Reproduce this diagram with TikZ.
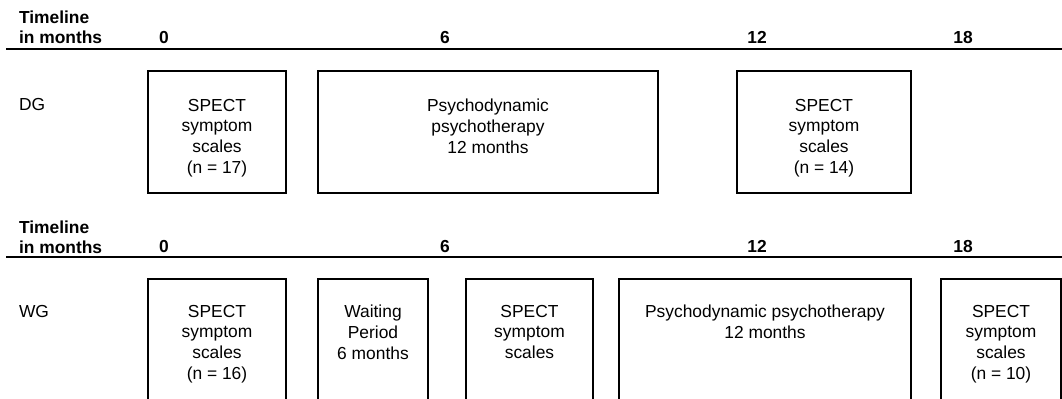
\documentclass[tikz,border=0pt]{standalone}
\usepackage{fontspec}
\setmainfont{Liberation Sans}
\usetikzlibrary{positioning}
\tikzstyle{boxtext} = [align=center, anchor=north, inner sep=0pt, font=\fontsize{8.7}{10.35}\selectfont]
\tikzstyle{head} = [align=left, anchor=north west, inner sep=0pt, font=\fontsize{8.7}{10}\selectfont\bfseries]
\tikzstyle{month} = [anchor=base, inner sep=0pt, font=\fontsize{8.7}{10}\selectfont\bfseries]
\tikzstyle{group} = [anchor=base west, inner sep=0pt, font=\fontsize{8.7}{10}\selectfont]

\begin{document}
\begin{tikzpicture}[x=0.5pt, y=-0.5pt, line width=1pt]
\useasboundingbox (0,0) rectangle (1062,398);

% DG timeline
\node[head] (headdg) at (18,10) {Timeline\\in months};
\draw (6,48.5) -- (1062,48.5);
\foreach \m/\x in {0/164, 6/445, 12/757, 18/963} {
    \node[month] (dgm\m) at (\x,43) {\m};
}
\node[group] (dg) at (18,110) {DG};

\draw (147.5,70.5) rectangle (286,193);
\draw (318,70.5) rectangle (658,193);
\draw (737,70.5) rectangle (911,193);
\node[boxtext] (dgpre) at (217,98) {SPECT\\symptom\\scales\\(n = 17)};
\node[boxtext] (dgther) at (488,98) {Psychodynamic\\psychotherapy\\12 months};
\node[boxtext] (dgpost) at (824,98) {SPECT\\symptom\\scales\\(n = 14)};

% WG timeline
\node[head] (headwg) at (18,220) {Timeline\\in months};
\draw (6,256.5) -- (1062,256.5);
\foreach \m/\x in {0/164, 6/445, 12/757, 18/963} {
    \node[month] (wgm\m) at (\x,252) {\m};
}
\node[group] (wg) at (18,317) {WG};

\foreach \l/\r in {147.5/286, 318/428, 466/593, 619/911, 941/1060.5} {
    \draw (\l,402) |- (\r,279) -- (\r,402);
}
\node[boxtext] (wgpre) at (217,304) {SPECT\\symptom\\scales\\(n = 16)};
\node[boxtext] (wgwait) at (373,304) {Waiting\\Period\\6 months};
\node[boxtext] (wgmid) at (529.5,304) {SPECT\\symptom\\scales};
\node[boxtext] (wgther) at (765,304) {Psychodynamic psychotherapy\\12 months};
\node[boxtext] (wgpost) at (1001,304) {SPECT\\symptom\\scales\\(n = 10)};
\end{tikzpicture}
\end{document}
